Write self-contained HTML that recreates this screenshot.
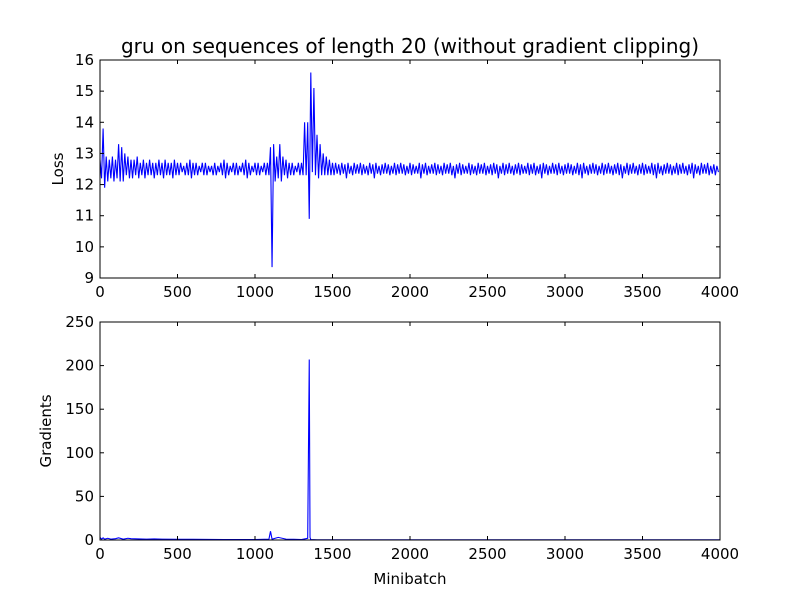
<!DOCTYPE html>
<html><head><meta charset="utf-8"><style>
body{margin:0;background:#fff;}
svg text{font-family:"DejaVu Sans","Liberation Sans",sans-serif;fill:#000;}
</style></head><body>
<svg id="chart" width="800" height="600" viewBox="0 0 800 600" xmlns="http://www.w3.org/2000/svg">
<rect width="800" height="600" fill="#fff"/>
<text x="410" y="53" font-size="20" text-anchor="middle">gru on sequences of length 20 (without gradient clipping)</text>
<g id="topPanel"></g><g id="botPanel"></g>
</svg>
<script>
const xTicks=[0,500,1000,1500,2000,2500,3000,3500,4000];
const lossTicks=[9,10,11,12,13,14,15,16];
const gradTicks=[0,50,100,150,200,250];
const binSize=20;
const lossHigh=[12.8,13.8,12.9,12.8,12.9,12.8,13.3,13.2,13.0,12.9,12.8,12.8,12.9,12.7,12.8,12.7,
12.8,12.7,12.7,12.8,12.7,12.8,12.7,12.7,12.8,12.7,12.7,12.6,12.7,12.8,12.7,12.7,12.6,12.7,12.7,12.6,12.6,12.7,12.6,12.7,12.8,12.7,12.6,12.7,12.7,12.6,12.7,12.8,12.7,12.6,12.7,
12.7,12.6,12.7,12.7,13.2,13.3,12.9,13.3,12.9,12.8,12.7,12.7,12.6,12.7,12.7,14.0,14.0,15.6,15.1,13.6,13.3,13.0,12.9,12.8,
12.7,12.7,12.65,12.7,12.65,12.7,12.6,12.7,12.65,12.7,12.65,12.6,12.7,12.65,12.7,12.6,12.65,12.7,12.65,12.6,12.7,12.65,12.7,12.65,12.6,
12.7,12.65,12.6,12.7,12.65,12.7,12.6,12.65,12.7,12.65,12.6,12.7,12.65,12.7,12.6,12.65,12.7,12.65,12.6,12.7,12.65,12.6,12.7,12.65,12.7,
12.6,12.65,12.7,12.65,12.6,12.7,12.65,12.7,12.6,12.65,12.7,12.65,12.6,12.7,12.65,12.7,12.6,12.65,12.7,12.65,12.6,12.7,12.65,12.7,12.6,
12.65,12.7,12.65,12.6,12.7,12.65,12.7,12.6,12.65,12.7,12.65,12.6,12.7,12.65,12.7,12.6,12.65,12.7,12.65,12.6,12.7,12.65,12.7,12.6,12.65,
12.7,12.65,12.6,12.7,12.65,12.7,12.6,12.65,12.7,12.65,12.6,12.7,12.65,12.7,12.6,12.65,12.7,12.65,12.6,12.7,12.65,12.7,12.6,12.65,12.6];
const lossLow=[12.2,11.9,12.1,12.2,12.1,12.2,12.1,12.1,12.3,12.2,12.2,12.3,12.2,12.3,12.2,12.3,
12.3,12.2,12.3,12.3,12.2,12.3,12.3,12.2,12.3,12.3,12.4,12.3,12.3,12.2,12.3,12.3,12.4,12.3,12.3,12.4,12.3,12.3,12.4,12.3,12.2,12.3,12.4,12.3,12.3,12.4,12.3,12.2,12.3,12.4,12.3,
12.3,12.4,12.3,12.3,9.35,12.1,12.2,12.1,12.3,12.2,12.3,12.3,12.4,12.3,12.3,12.3,10.9,12.4,12.3,12.2,12.3,12.3,12.3,12.3,
12.3,12.35,12.3,12.35,12.2,12.35,12.3,12.35,12.35,12.3,12.35,12.3,12.35,12.2,12.35,12.3,12.35,12.35,12.3,12.35,12.3,12.35,12.35,12.3,12.35,
12.3,12.35,12.35,12.2,12.35,12.3,12.35,12.35,12.3,12.35,12.3,12.35,12.35,12.3,12.2,12.35,12.3,12.35,12.35,12.3,12.35,12.3,12.35,12.35,12.3,
12.35,12.3,12.35,12.2,12.35,12.3,12.35,12.35,12.3,12.35,12.3,12.35,12.35,12.3,12.35,12.3,12.35,12.2,12.35,12.3,12.35,12.35,12.3,12.35,12.3,
12.35,12.35,12.3,12.35,12.3,12.2,12.35,12.3,12.35,12.35,12.3,12.35,12.3,12.35,12.35,12.3,12.35,12.3,12.2,12.35,12.3,12.35,12.35,12.3,12.35,
12.3,12.35,12.35,12.3,12.2,12.35,12.3,12.35,12.35,12.3,12.35,12.3,12.35,12.35,12.3,12.35,12.2,12.35,12.3,12.35,12.35,12.3,12.35,12.3,12.4];
const gradSteps=[0,10,20,30,50,70,100,120,150,180,200,250,300,350,400,500,600,700,800,900,1000,1090,1100,1110,1150,1200,1250,1300,1340,1350,1355,1360,1400,1500,2000,2500,3000,3500,4000];
const gradValues=[3,1,2.5,1,2,1,1.5,2.5,1,2,1.5,1.2,1,1.2,1,0.8,0.8,0.6,0.5,0.5,0.5,1,10,1,3,1,0.8,0.5,2,207,3,0.5,0.3,0.2,0.2,0.2,0.2,0.2,0.2];

(function(){
const NS="http://www.w3.org/2000/svg";
function mk(tag,attrs,parent){const e=document.createElementNS(NS,tag);for(const k in attrs)e.setAttribute(k,attrs[k]);parent.appendChild(e);return e;}
function panel(g,y0,y1,ymin,ymax,yTicks,ylabel,name){
  const L=100,R=720;
  const sx=v=>L+v/4000*(R-L);
  const sy=v=>y1-(v-ymin)/(ymax-ymin)*(y1-y0);
  return {draw(xs,ys){
    const p=xs.map((x,i)=>sx(x).toFixed(2)+","+sy(ys[i]).toFixed(2)).join(" ");
    const line=mk("polyline",{points:p,fill:"none",stroke:"#0000ff","stroke-width":1.1},g);
    
    
    const fr=mk("rect",{x:L,y:y0,width:R-L,height:y1-y0,fill:"none",stroke:"#000","stroke-width":1},g);
    
    
    xTicks.forEach(t=>{
      const x=sx(t);
      mk("line",{x1:x,x2:x,y1:y1,y2:y1-4,stroke:"#000"},g);
      mk("line",{x1:x,x2:x,y1:y0,y2:y0+4,stroke:"#000"},g);
      const tx=mk("text",{x:x,y:y1+19,"font-size":15,"text-anchor":"middle"},g);
      tx.textContent=t;
      
      
    });
    yTicks.forEach(t=>{
      const y=sy(t);
      mk("line",{x1:L,x2:L+4,y1:y,y2:y,stroke:"#000"},g);
      mk("line",{x1:R,x2:R-4,y1:y,y2:y,stroke:"#000"},g);
      const tx=mk("text",{x:L-6,y:y+5,"font-size":15,"text-anchor":"end"},g);
      tx.textContent=t;
      
      
    });
    const yl=mk("text",{x:0,y:0,"font-size":15,"text-anchor":"middle",transform:`translate(${name==='loss'?63:51},${(y0+y1)/2}) rotate(-90)`},g);
    yl.textContent=ylabel;
    
    
  }};
}
const lx=[],ly=[];
lossHigh.forEach((h,i)=>{lx.push(i*binSize);ly.push(h);lx.push(i*binSize+binSize/2);ly.push(lossLow[i]);});
const topG=document.getElementById("topPanel"),botG=document.getElementById("botPanel");
panel(topG,60,278,9,16,lossTicks,"Loss","loss").draw(lx,ly);
panel(botG,322,540,0,250,gradTicks,"Gradients","gradients").draw(gradSteps,gradValues);
const xl=mk("text",{x:410,y:584,"font-size":15,"text-anchor":"middle"},botG);
xl.textContent="Minibatch";


})();
</script>
</body></html>
